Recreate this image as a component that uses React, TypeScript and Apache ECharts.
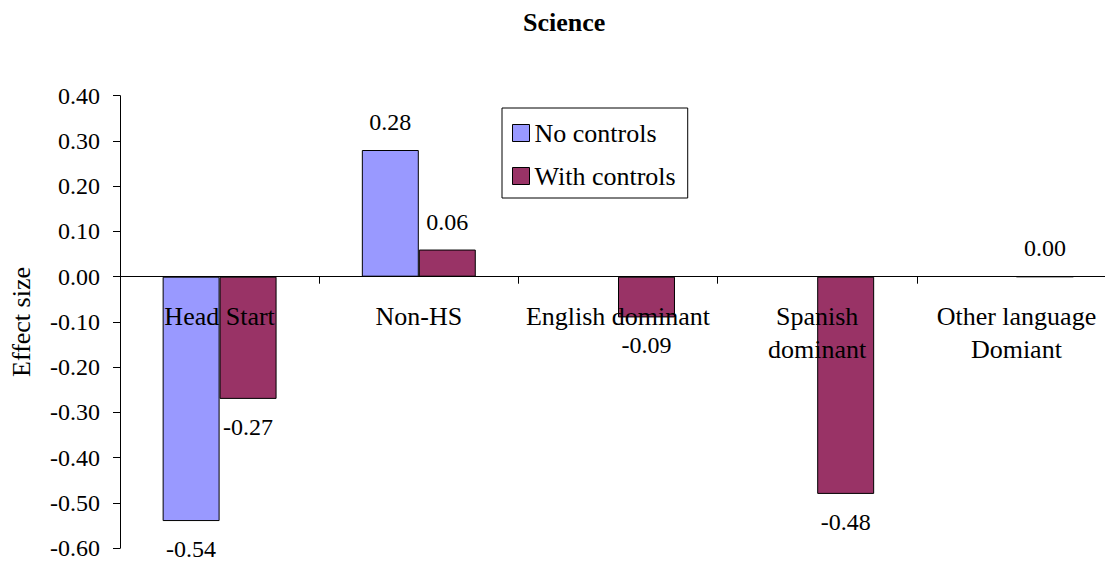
import React, { useEffect, useRef } from "react";
import * as echarts from "echarts";

const title = "Science";
const yAxisName = "Effect size";
const categories = [
  "Head Start",
  "Non-HS",
  "English dominant",
  "Spanish\ndominant",
  "Other language\nDomiant",
];
const seriesNames = ["No controls", "With controls"];
const noControls: (number | null)[] = [-0.54, 0.28, null, null, null];
const withControls: (number | null)[] = [-0.27, 0.06, -0.09, -0.48, 0.0];
const yMin = -0.6;
const yMax = 0.4;
const yInterval = 0.1;

const FONT = "Liberation Serif";

function toItems(values: (number | null)[]) {
  return values.map((v) =>
    v == null
      ? null
      : { value: v, label: { position: v >= 0 ? "top" : "bottom" } }
  );
}

export default function App() {
  const ref = useRef<HTMLDivElement>(null);
  useEffect(() => {
    document.body.style.margin = "0";
    if (!ref.current) return;
    const chart = echarts.init(ref.current, undefined, { renderer: "svg" });
    const labelCfg = {
      show: true,
      distance: 16,
      color: "#000",
      fontSize: 24,
      fontFamily: FONT,
      formatter: (p: any) => (p.value == null ? "" : Number(p.value).toFixed(2)),
    };
    // pixel distance from the grid bottom (-0.60) up to the zero line
    const gridTop = 95.7;
    const gridBottomPx = 548.2;
    const zeroOffset = -((gridBottomPx - gridTop) * (0 - yMin)) / (yMax - yMin);
    chart.setOption({
      animation: false,
      backgroundColor: "#fff",
      textStyle: { fontFamily: FONT, color: "#000" },
      title: {
        text: title,
        left: 518,
        top: 4,
        textStyle: { fontFamily: FONT, fontSize: 26, fontWeight: "bold", color: "#000" },
      },
      legend: {
        orient: "vertical",
        left: 502,
        top: 108,
        data: seriesNames,
        backgroundColor: "#fff",
        borderColor: "#000",
        borderWidth: 1,
        padding: [12, 12, 9, 10],
        itemGap: 17,
        itemWidth: 17,
        itemHeight: 17,
        icon: "rect",
        itemStyle: { borderColor: "#000", borderWidth: 1 },
        textStyle: { fontFamily: FONT, fontSize: 26, lineHeight: 24, color: "#000" },
      },
      grid: {
        left: 120,
        top: gridTop,
        width: 996,
        height: gridBottomPx - gridTop,
        outerBoundsMode: "none",
        containLabel: false,
      },
      xAxis: {
        type: "category",
        data: categories,
        position: "bottom",
        offset: zeroOffset,
        z: 5,
        axisLine: { show: true, onZero: false, lineStyle: { color: "#000", width: 1 } },
        axisTick: { show: true, length: 7, lineStyle: { color: "#000" } },
        axisLabel: {
          margin: 23.5,
          fontFamily: FONT,
          fontSize: 26,
          lineHeight: 33,
          color: "#000",
          interval: 0,
        },
        splitLine: { show: false },
      },
      yAxis: {
        type: "value",
        min: yMin,
        max: yMax,
        interval: yInterval,
        name: yAxisName,
        nameLocation: "middle",
        nameGap: 86,
        nameTextStyle: { fontFamily: FONT, fontSize: 26, color: "#000" },
        axisLine: { show: true, lineStyle: { color: "#000", width: 1 } },
        axisTick: { show: true, length: 7, lineStyle: { color: "#000" } },
        axisLabel: {
          margin: 20,
          fontFamily: FONT,
          fontSize: 24,
          color: "#000",
          formatter: (v: number) => v.toFixed(2),
        },
        splitLine: { show: false },
      },
      series: [
        {
          name: seriesNames[0],
          type: "bar",
          data: toItems(noControls),
          barGap: "0%",
          barCategoryGap: "42.8%",
          itemStyle: { color: "#9999FF", borderColor: "#000", borderWidth: 1 },
          label: labelCfg,
        },
        {
          name: seriesNames[1],
          type: "bar",
          data: toItems(withControls),
          barGap: "0%",
          barCategoryGap: "42.8%",
          itemStyle: { color: "#993366", borderColor: "#000", borderWidth: 1 },
          label: labelCfg,
        },
      ],
    });
    return () => chart.dispose();
  }, []);
  return <div ref={ref} style={{ width: 1105, height: 563 }} />;
}
